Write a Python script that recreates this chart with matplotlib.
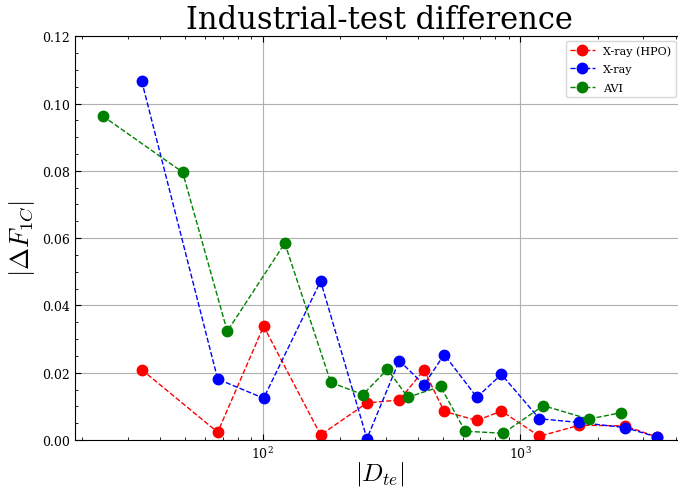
import matplotlib
matplotlib.use("Agg")
import matplotlib.pyplot as plt
from matplotlib.ticker import AutoMinorLocator

# dados
tamanho_ref = [34, 67, 101, 168, 254, 339, 423, 506, 678, 844, 1185, 1693, 2539, 3379]
tamanho_avi = [24, 49, 73, 122, 184, 245, 305, 366, 490, 611, 857, 1227, 1841, 2449]

delta_hpo = [0.0209, 0.0023, 0.0338, 0.0015, 0.0110, 0.0119, 0.0208,
             0.0085, 0.0058, 0.0086, 0.0011, 0.0044, 0.0042, 0.0009]
delta_xray = [0.1067, 0.0181, 0.0124, 0.0472, 0.0004, 0.0236, 0.0164,
              0.0254, 0.0127, 0.0195, 0.0063, 0.0052, 0.0037, 0.0009]
delta_avi = [0.0963, 0.0796, 0.0323, 0.0585, 0.0171, 0.0135, 0.0210,
             0.0127, 0.0159, 0.0026, 0.0020, 0.0102, 0.0062, 0.0081]

plt.rcParams["font.family"] = "DejaVu Serif"
plt.rcParams["mathtext.fontset"] = "cm"

fig = plt.figure(figsize=(6.78, 4.89), dpi=100)
ax = fig.add_axes([0.1106, 0.0982, 0.899, 0.8256])

ax.plot(tamanho_ref, delta_hpo, "o--", color="red", lw=1, ms=7.5, label="X-ray (HPO)")
ax.plot(tamanho_ref, delta_xray, "o--", color="blue", lw=1, ms=7.5, label="X-ray")
ax.plot(tamanho_avi, delta_avi, "o--", color="green", lw=1, ms=7.5, label="AVI")

ax.set_xscale("log")
ax.set_ylim(0, 0.12)
ax.yaxis.set_minor_locator(AutoMinorLocator(4))
ax.tick_params(which="both", direction="in", top=True, right=True, labelsize=9)
ax.tick_params(which="major", length=4)
ax.tick_params(which="minor", length=2)
ax.grid(True, which="major", color="#b0b0b0", lw=0.8)

ax.set_title("Industrial-test difference", fontsize=22)
ax.set_xlabel(r"$|D_{te}|$", fontsize=18, labelpad=-1)
ax.set_ylabel(r"$|\Delta F_{1C}|$", fontsize=19)
ax.legend(loc="upper right", fontsize=8, labelspacing=0.75, handlelength=2.2,
          bbox_to_anchor=(676 / 678, 1 - 42 / 489), bbox_transform=fig.transFigure,
          borderaxespad=0)

fig.savefig("out.png", dpi=100)
